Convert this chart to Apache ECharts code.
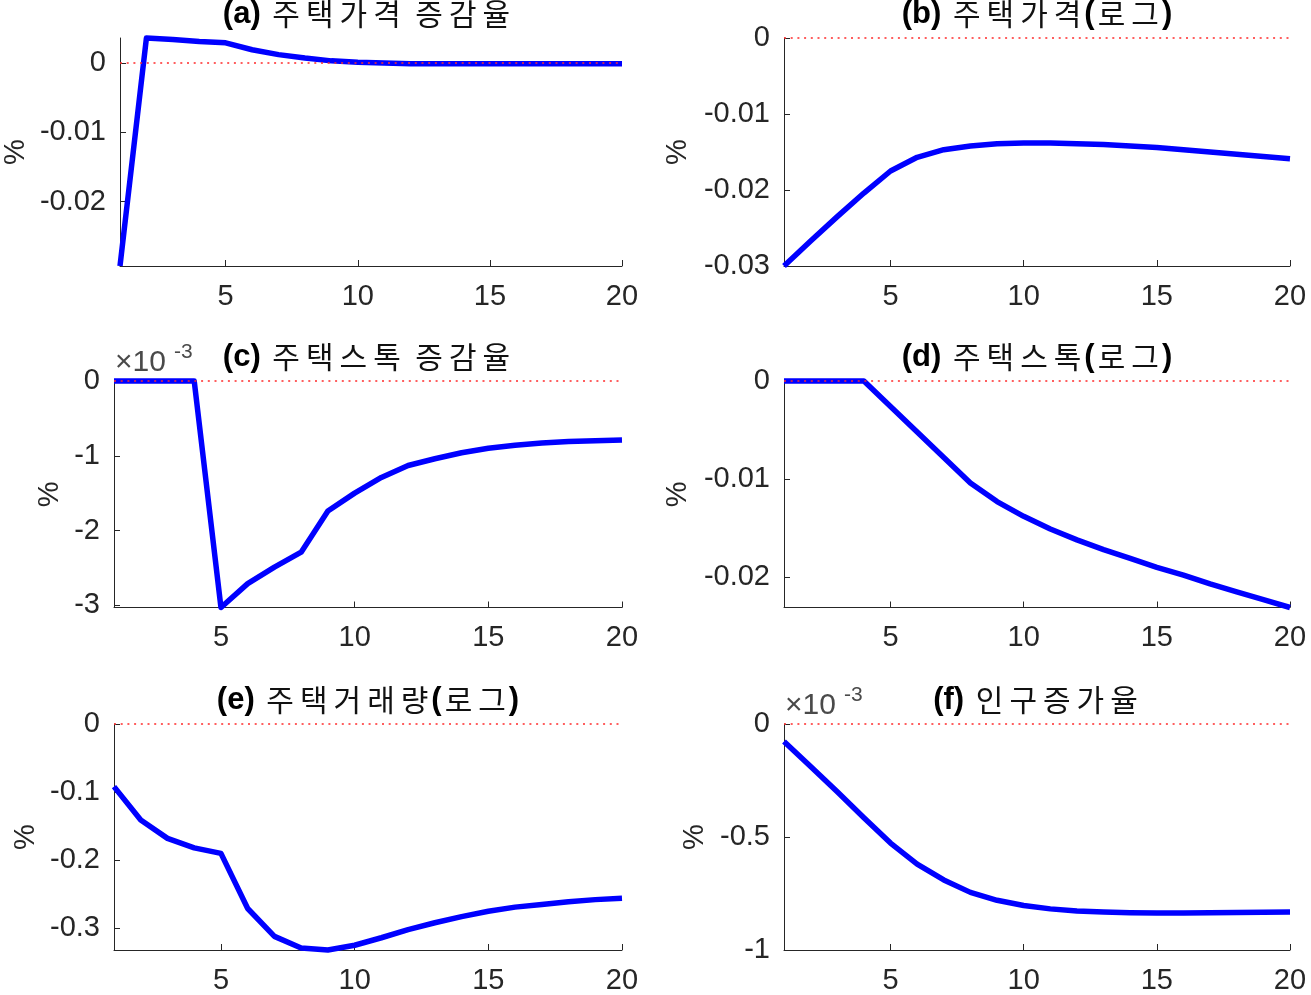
<!DOCTYPE html>
<html>
<head>
<meta charset="utf-8">
<script src="https://cdn.jsdelivr.net/npm/echarts@6/dist/echarts.min.js"></script>
<style>
html,body{margin:0;padding:0;background:#fff;}
#chart{width:1311px;height:995px;}
</style>
</head>
<body>
<div id="chart"></div>
<script>
// ---- data ----
const periods = [1,2,3,4,5,6,7,8,9,10,11,12,13,14,15,16,17,18,19,20];

const titles = [
  '(a) 주택가격 증감율',
  '(b) 주택가격(로그)',
  '(c) 주택스톡 증감율',
  '(d) 주택스톡(로그)',
  '(e) 주택거래량(로그)',
  '(f) 인구증가율'
];

const housePriceGrowth = [-0.0293, 0.0036, 0.0034, 0.0031, 0.0029, 0.0019, 0.0012, 0.0007, 0.0003, 0.0001,
  0.0000, -0.0001, -0.0001, -0.0001, -0.0001, -0.0001, -0.0001, -0.0001, -0.0001, -0.0001];
const housePriceLog = [-0.0300, -0.0267, -0.0235, -0.0204, -0.0175, -0.0157, -0.0147, -0.0142, -0.0139, -0.0138,
  -0.0138, -0.0139, -0.0140, -0.0142, -0.0144, -0.0147, -0.0150, -0.0153, -0.0156, -0.0159];
const houseStockGrowth = [0, 0, 0, 0, -0.00303, -0.00271, -0.00249, -0.00229, -0.00174, -0.00150,
  -0.00129, -0.00113, -0.00104, -0.00096, -0.00090, -0.00086, -0.00083, -0.00081, -0.00080, -0.00079];
const houseStockLog = [0, 0, 0, 0, -0.0026, -0.0052, -0.0078, -0.0104, -0.0123, -0.0138,
  -0.0151, -0.0162, -0.0172, -0.0181, -0.0190, -0.0198, -0.0207, -0.0215, -0.0223, -0.0231];
const tradeVolumeLog = [-0.092, -0.141, -0.168, -0.182, -0.190, -0.271, -0.312, -0.329, -0.332, -0.325,
  -0.314, -0.302, -0.292, -0.283, -0.275, -0.269, -0.265, -0.261, -0.258, -0.256];
const popGrowth = [-0.000077, -0.000188, -0.000300, -0.000415, -0.000527, -0.000620, -0.000690, -0.000745, -0.000780, -0.000803,
  -0.000818, -0.000827, -0.000832, -0.000835, -0.000836, -0.000836, -0.000835, -0.000834, -0.000833, -0.000832];

const zeroLine = [0, 0];
const zeroLineX = [1, 20];

const xTicks = [5, 10, 15, 20];
const xTickLabels = ['5', '10', '15', '20'];

const yTicksA = [-0.02, -0.01, 0];   const yLabelsA = ['-0.02', '-0.01', '0'];
const yTicksB = [-0.03, -0.02, -0.01, 0]; const yLabelsB = ['-0.03', '-0.02', '-0.01', '0'];
const yTicksC = [-0.003, -0.002, -0.001, 0]; const yLabelsC = ['-3', '-2', '-1', '0'];
const yTicksD = [-0.02, -0.01, 0];   const yLabelsD = ['-0.02', '-0.01', '0'];
const yTicksE = [-0.3, -0.2, -0.1, 0]; const yLabelsE = ['-0.3', '-0.2', '-0.1', '0'];
const yTicksF = [-0.001, -0.0005, 0]; const yLabelsF = ['-1', '-0.5', '0'];

const yMin = [-0.0293, -0.0300, -0.00303, -0.0231, -0.332, -0.001];
const yMax = [0.0036, 0, 0, 0, 0, 0];
const exponentLabel = [null, null, '-3', null, null, '-3'];

// ---- layout ----
const GL = [114, 784], GW = [508, 506];
const GT = [38, 381, 724], GH = [228, 226.5, 226];
const nameGaps = [90, 92, 50, 92, 74, 75];
const TXT = '#262626';
const FONT = 'Liberation Sans, Arial, sans-serif';
const FS = 29;

const seriesData = [housePriceGrowth, housePriceLog, houseStockGrowth, houseStockLog, tradeVolumeLog, popGrowth];
const yTicks = [yTicksA, yTicksB, yTicksC, yTicksD, yTicksE, yTicksF];
const yLabels = [yLabelsA, yLabelsB, yLabelsC, yLabelsD, yLabelsE, yLabelsF];

// Hangul characters each get their own fragment (for wider spacing); other runs are bold
function richTitle(s) {
  let out = '', cur = '';
  for (const ch of s) {
    if (/[\uAC00-\uD7A3]/.test(ch)) {
      if (cur) { out += '{b|' + cur + '}'; cur = ''; }
      out += '{k|' + ch + '}';
    } else {
      cur += ch;
    }
  }
  if (cur) out += '{b|' + cur + '}';
  return out;
}

const grid = [], xAxis = [], yAxis = [], series = [], graphic = [];
for (let i = 0; i < 6; i++) {
  const col = i % 2, row = Math.floor(i / 2);
  grid.push({ left: GL[col], top: GT[row], width: GW[col], height: GH[row], containLabel: false });
  xAxis.push({
    type: 'value', gridIndex: i, min: 1, max: 20,
    axisLine: { show: true, onZero: false, lineStyle: { color: TXT, width: 1 } },
    axisTick: { show: true, inside: true, length: 6, customValues: xTicks, lineStyle: { color: TXT } },
    axisLabel: { customValues: xTicks, formatter: v => xTickLabels[xTicks.indexOf(v)], fontSize: FS, color: TXT, fontFamily: FONT, margin: 16 },
    splitLine: { show: false }
  });
  const tv = yTicks[i], tl = yLabels[i];
  yAxis.push({
    type: 'value', gridIndex: i, min: yMin[i], max: yMax[i],
    name: '%', nameLocation: 'middle', nameGap: nameGaps[i],
    nameTextStyle: { fontSize: FS, color: TXT, fontFamily: FONT },
    axisLine: { show: true, onZero: false, lineStyle: { color: TXT, width: 1 } },
    axisTick: { show: true, inside: true, length: 6, customValues: tv, lineStyle: { color: TXT } },
    axisLabel: {
      customValues: tv,
      formatter: v => { let k = 0, best = 1e9; tv.forEach((t, j) => { const d = Math.abs(t - v); if (d < best) { best = d; k = j; } }); return tl[k]; },
      fontSize: FS, color: TXT, fontFamily: FONT, margin: 14
    },
    splitLine: { show: false }
  });
  series.push({
    type: 'line', xAxisIndex: i, yAxisIndex: i,
    data: periods.map((p, j) => [p, seriesData[i][j]]),
    symbol: 'none', clip: false,
    lineStyle: { color: '#0000ff', width: 5.5, cap: 'butt', join: 'round' },
    z: 2, silent: true
  });
  series.push({
    type: 'line', xAxisIndex: i, yAxisIndex: i,
    data: zeroLineX.map((x, j) => [x, zeroLine[j]]),
    symbol: 'none', clip: false,
    lineStyle: { color: '#ff2a2a', width: 1.5, type: [2, 4.7] },
    z: 3, silent: true
  });
  const cx = GL[col] + GW[col] / 2;
  graphic.push({
    type: 'text', x: cx, y: GT[row] - 24, z: 10,
    style: {
      text: richTitle(titles[i]), align: 'center', verticalAlign: 'middle', fill: '#000',
      rich: {
        b: { fontFamily: FONT, fontWeight: 'bold', fontSize: 31, fill: '#000' },
        k: { fontFamily: 'Noto Sans CJK KR', fontWeight: 'normal', fontSize: 30, fill: '#111', padding: [0, 3, 0, 3] }
      }
    }
  });
  if (exponentLabel[i]) {
    graphic.push({
      type: 'text', x: GL[col] + 1, y: GT[row] - 18, z: 10,
      style: { text: '×10', fontFamily: FONT, fontSize: 30, fill: '#4a4a4a', align: 'left', verticalAlign: 'middle' }
    });
    graphic.push({
      type: 'text', x: GL[col] + 60, y: GT[row] - 29, z: 10,
      style: { text: exponentLabel[i], fontFamily: FONT, fontSize: 21, fill: '#4a4a4a', align: 'left', verticalAlign: 'middle' }
    });
  }
}

const chart = echarts.init(document.getElementById('chart'), null, { renderer: 'canvas' });
chart.setOption({
  backgroundColor: '#ffffff',
  animation: false,
  grid, xAxis, yAxis, series, graphic
});
</script>
</body>
</html>
